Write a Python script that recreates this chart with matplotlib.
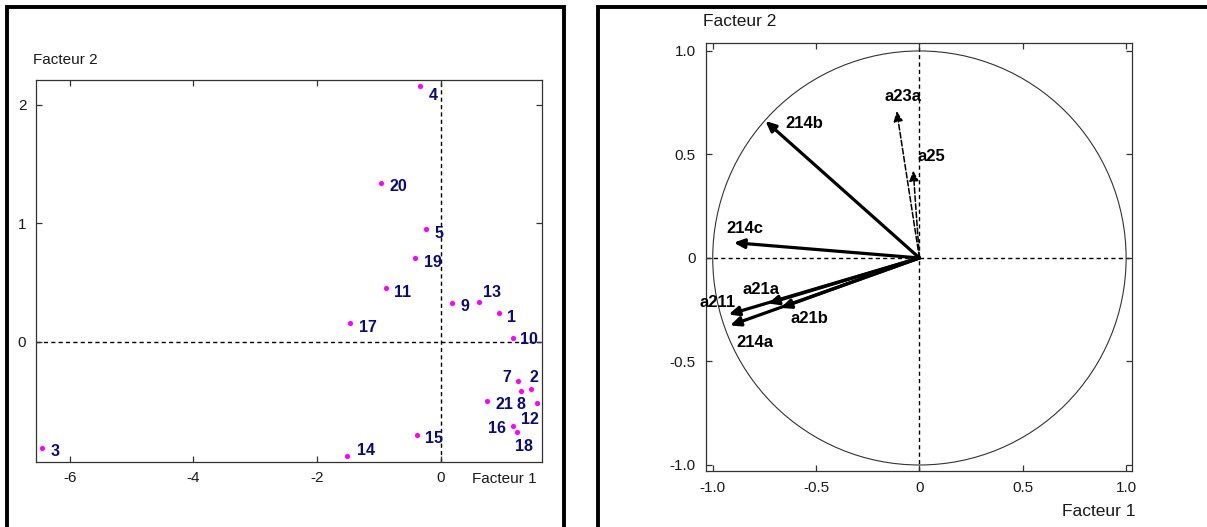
import matplotlib
matplotlib.use("Agg")
import matplotlib.pyplot as plt
from matplotlib.lines import Line2D
from matplotlib.patches import Circle

# figure size in pixels
W, H = 1207, 527

plt.rcParams['font.family'] = ['Liberation Sans', 'DejaVu Sans']
plt.rcParams['axes.unicode_minus'] = False

# individuals plane (Facteur 1 x Facteur 2)
ind_labels = ['1', '2', '3', '4', '5', '7', '8', '9', '10', '11', '12',
              '13', '14', '15', '16', '17', '18', '19', '20', '21']
ind_f1 = [0.94, 1.46, -6.45, -0.34, -0.24, 1.25, 1.30, 0.18, 1.17, -0.89,
          1.56, 0.62, -1.51, -0.39, 1.17, -1.46, 1.24, -0.41, -0.96, 0.75]
ind_f2 = [0.244, -0.397, -0.891, 2.159, 0.948, -0.332, -0.417, 0.332, 0.031,
          0.454, -0.516, 0.340, -0.959, -0.780, -0.706, 0.156, -0.757, 0.704,
          1.342, -0.494]

# correlation circle, variable vectors
var_labels = ['214b', 'a23a', 'a25', '214c', 'a211', '214a', 'a21a', 'a21b']
var_f1 = [-0.745, -0.110, -0.030, -0.898, -0.923, -0.916, -0.732, -0.671]
var_f2 = [0.662, 0.710, 0.422, 0.074, -0.273, -0.326, -0.220, -0.241]
var_dashed = ['a23a', 'a25']

# label placement (pixels: dx, dy, ha)
ind_offsets = {
    '4': (8.8, -8.8, 'left'), '13': (3.8, 10.8, 'left'),
    '10': (7.3, 0, 'left'), '7': (-6.5, 5, 'right'),
    '2': (-1.2, 13.5, 'left'), '8': (-4.2, -11.8, 'left'),
    '12': (-15.7, -15, 'left'), '16': (-7.3, -1.7, 'right'),
    '18': (-2.7, -13.5, 'left'), '14': (9.6, 7, 'left'),
}
var_offsets = {
    '214b': (20, -1.3, 'left'), 'a23a': (6.5, 16, 'center'),
    'a25': (4, 15.7, 'left'), '214c': (-7.3, 16, 'left'),
    'a21a': (-7.6, 15.4, 'center'), 'a211': (6.7, 13.3, 'right'),
    'a21b': (9.3, -9, 'left'), '214a': (6.7, -16, 'left'),
}

TXT = '#1a1a1a'
NAVY = '#0a0a80'


def fx(x):
    return x / W


def fy(y):
    return 1 - y / H


def ax_rect(left, top, right, bottom):
    return [fx(left), fy(bottom), (right - left) / W, (bottom - top) / H]


def style_axes(ax):
    for s in ax.spines.values():
        s.set_linewidth(0.9)
        s.set_color('#333333')
    ax.tick_params(direction='in', length=4.5, width=0.9, colors='#333333',
                   labelcolor=TXT, labelsize=11, top=True, right=True,
                   pad=7)
    ax.axhline(0, color='black', lw=1, ls=(0, (3, 2.3)), zorder=1)
    ax.axvline(0, color='black', lw=1, ls=(0, (3, 2.3)), zorder=1)


fig = plt.figure(figsize=(W / 100, H / 100), dpi=100)

# ---- left panel: individuals
ax1 = fig.add_axes(ax_rect(36, 80, 542.3, 461.5))
style_axes(ax1)
ax1.set_xlim(-6.546, 1.644)
ax1.set_ylim(-1.007, 2.207)
ax1.set_xticks([-6, -4, -2, 0])
ax1.set_xticklabels(['-6', '-4', '-2', '0'])
ax1.set_yticks([0, 1, 2])
ax1.set_yticklabels(['0', '1', '2'])
ax1.scatter(ind_f1, ind_f2, s=14, c='#ff00ff', lw=0, zorder=3)
for lab, x, y in zip(ind_labels, ind_f1, ind_f2):
    dx, dy, ha = ind_offsets.get(lab, (8.5, -2.5, 'left'))
    ax1.annotate(lab, (x, y), xytext=(dx, dy - 1.5), textcoords='offset pixels',
                 ha=ha, va='center', fontsize=11.5, fontweight='bold',
                 color=NAVY, annotation_clip=False, zorder=4)

fig.text(fx(33), fy(60.5), 'Facteur 2', ha='left', va='center',
         fontsize=11, color=TXT)
fig.text(fx(537), fy(479), 'Facteur 1', ha='right', va='center',
         fontsize=11, color=TXT)

# ---- right panel: correlation circle
ax2 = fig.add_axes(ax_rect(705.7, 43.3, 1132.3, 471))
style_axes(ax2)
ax2.set_xlim(-1.034, 1.030)
ax2.set_ylim(-1.029, 1.037)
ticks = [-1.0, -0.5, 0, 0.5, 1.0]
tick_txt = ['-1.0', '-0.5', '0', '0.5', '1.0']
ax2.set_xticks(ticks)
ax2.set_xticklabels(tick_txt)
ax2.set_yticks(ticks)
ax2.set_yticklabels(tick_txt)
ax2.add_patch(Circle((0, 0), 1, fill=False, lw=0.8, ec='#333333', zorder=2))

for lab, x, y in zip(var_labels, var_f1, var_f2):
    dashed = lab in var_dashed
    ax2.annotate('', xy=(x, y), xytext=(0, 0),
                 arrowprops=dict(arrowstyle='-|>,head_length=0.55,head_width=0.25',
                                 lw=1.1 if dashed else 2.3,
                                 ls='--' if dashed else '-',
                                 color='black', mutation_scale=11,
                                 shrinkA=0, shrinkB=0), zorder=3)
    dx, dy, ha = var_offsets[lab]
    ax2.annotate(lab, (x, y), xytext=(dx, dy - 1.5), textcoords='offset pixels',
                 ha=ha, va='center', fontsize=12, fontweight='bold',
                 color='black', annotation_clip=False, zorder=4)

fig.text(fx(703), fy(22), 'Facteur 2', ha='left', va='center',
         fontsize=12.5, color=TXT)
fig.text(fx(1135), fy(511.7), 'Facteur 1', ha='right', va='center',
         fontsize=12.5, color=TXT)

# ---- panel frames (cut off at the image edges)
frame = dict(color='black', lw=2.8, solid_joinstyle='miter',
             transform=fig.transFigure)
fig.add_artist(Line2D([fx(7), fx(7), fx(564), fx(564)],
                      [fy(540), fy(7), fy(7), fy(540)], **frame))
fig.add_artist(Line2D([fx(598.3), fx(598.3), fx(1220)],
                      [fy(540), fy(6.7), fy(6.7)], **frame))

fig.savefig('out.png', dpi=100)
